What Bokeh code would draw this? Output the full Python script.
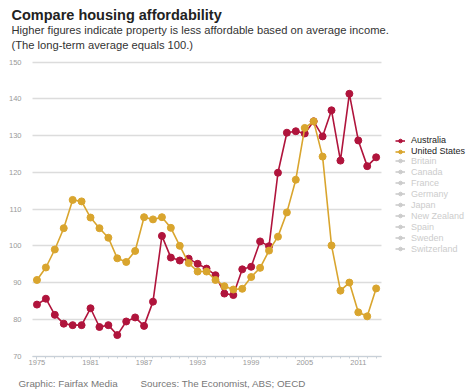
from bokeh.plotting import figure
from bokeh.models import ColumnDataSource, Label, Legend, LegendItem, FixedTicker, Range1d
from bokeh.embed import file_html
from bokeh.resources import INLINE

years = list(range(1975, 2014))
australia = [84.0, 85.6, 81.2, 78.8, 78.4, 78.4, 83.0, 77.9, 78.4, 75.7,
             79.4, 80.5, 78.2, 84.8, 102.7, 96.8, 96.0, 96.5, 95.1, 93.8,
             92.0, 87.0, 86.6, 93.6, 94.3, 101.2, 99.9, 119.9, 130.8, 131.2,
             130.6, 133.9, 129.8, 136.9, 123.2, 141.4, 128.7, 121.7, 124.1]
united_states = [90.7, 94.1, 99.0, 104.8, 112.5, 112.1, 107.7, 104.8, 102.2, 96.6,
                 95.6, 98.6, 107.8, 107.2, 107.8, 104.9, 100.0, 95.3, 93.0, 93.0,
                 90.7, 89.0, 88.1, 88.3, 91.5, 94.0, 98.7, 102.5, 109.1, 118.0,
                 132.1, 133.9, 124.3, 100.1, 87.8, 90.0, 81.9, 80.8, 88.4]
other_countries = ["Britain", "Canada", "France", "Germany", "Japan",
                   "New Zealand", "Spain", "Sweden", "Switzerland"]
x_tick_years = [1975, 1981, 1987, 1993, 1999, 2005, 2011]
y_ticks = [70, 80, 90, 100, 110, 120, 130, 140, 150]

title = "Compare housing affordability"
subtitle1 = "Higher figures indicate property is less affordable based on average income."
subtitle2 = "(The long-term average equals 100.)"
credit = "Graphic: Fairfax Media"
sources = "Sources: The Economist, ABS; OECD"

AUS = "#b0143c"
USC = "#d9a52e"
GREY = "#cccccc"
FONT = "Liberation Sans"

# layout (pixels)
W, H = 470, 391
PX_L, PX_R, PX_T, PX_B = 32, 381, 61.7, 355.5
X0, X1 = 1974.5, 2013.6       # data extent of the plotting area
Y0, Y1 = 70, 150
sx = (PX_R - PX_L) / (X1 - X0)
sy = (PX_B - PX_T) / (Y1 - Y0)

p = figure(width=W, height=H, output_backend="svg", toolbar_location=None,
           x_range=Range1d(X0 - PX_L / sx, X1 + (W - PX_R) / sx),
           y_range=Range1d(Y0 - (H - PX_B) / sy, Y1 + PX_T / sy),
           min_border_left=0, min_border_right=0, min_border_top=0,
           min_border_bottom=0, outline_line_color=None,
           background_fill_color="white", border_fill_color="white")

p.xgrid.visible = False
grid = p.ygrid[0]
grid.grid_line_color = "#dcdcdc"
grid.grid_line_width = 1.5
if "cross_bounds" in grid.properties():
    grid.cross_bounds = (X0, X1)
else:
    grid.visible = False
    p.segment(x0=[X0] * len(y_ticks), x1=[X1] * len(y_ticks), y0=y_ticks, y1=y_ticks,
              line_color="#dcdcdc", line_width=1.5, level="underlay")

yax = p.yaxis[0]
yax.fixed_location = X0
yax.bounds = (Y0, Y1)
yax.ticker = FixedTicker(ticks=y_ticks)
yax.axis_line_color = None
yax.major_tick_line_color = None
yax.minor_tick_line_color = None
yax.major_label_standoff = 5
yax.major_label_text_font_size = "7.5px"
yax.major_label_text_color = "#999999"
yax.major_label_text_font = FONT

xax = p.xaxis[0]
xax.fixed_location = Y0
xax.bounds = (X0, X1)
xax.ticker = FixedTicker(ticks=x_tick_years, minor_ticks=years)
xax.axis_line_color = "#c8d0d8"
xax.major_tick_line_color = "#c8d0d8"
xax.minor_tick_line_color = "#c8d0d8"
xax.major_tick_out = 3
xax.major_tick_in = 0
xax.minor_tick_out = 2
xax.minor_tick_in = 0
xax.major_label_standoff = 1
xax.major_label_text_font_size = "7.5px"
xax.major_label_text_color = "#999999"
xax.major_label_text_font = FONT

src = ColumnDataSource(dict(year=years, aus=australia, us=united_states))

la = p.line("year", "aus", source=src, line_color=AUS, line_width=1.6)
sa = p.scatter("year", "aus", source=src, size=7, fill_color=AUS, line_color=AUS)
lu = p.line("year", "us", source=src, line_color=USC, line_width=1.6)
su = p.scatter("year", "us", source=src, size=7, fill_color=USC, line_color=USC)

grey_items = []
nan = float("nan")
for name in other_countries:
    es = ColumnDataSource(dict(x=[nan], y=[nan]))
    gl = p.line("x", "y", source=es, line_color=GREY, line_width=1.6)
    gs = p.scatter("x", "y", source=es, size=5, fill_color=GREY, line_color=GREY)
    grey_items.append(LegendItem(label=name, renderers=[gl, gs]))

common = dict(border_line_color=None, background_fill_alpha=0, padding=0, margin=0,
              spacing=1, glyph_width=10, glyph_height=9, label_height=9,
              label_standoff=6, label_text_font=FONT, label_text_font_size="9px",
              label_text_baseline="middle")

# tuple location = bottom-left corner of legend, in frame pixels from bottom-left
leg1 = Legend(items=[LegendItem(label="Australia", renderers=[la, sa]),
                     LegendItem(label="United States", renderers=[lu, su])],
              location=(395, H - 156), label_text_color="#222222", **common)
leg2 = Legend(items=grey_items, location=(395, H - 253.5),
              label_text_color=GREY, **common)
p.add_layout(leg1, "center")
p.add_layout(leg2, "center")

def add_text(txt, x, y, size, color, bold=False):
    p.add_layout(Label(x=x, y=H - y, x_units="screen", y_units="screen", text=txt,
                       text_font=FONT, text_font_size=size, text_color=color,
                       text_font_style="bold" if bold else "normal",
                       text_baseline="middle", text_align="left"))

add_text(title, 11, 14, "14.5px", "#222222", bold=True)
add_text(subtitle1, 11, 29.5, "11.2px", "#333333")
add_text(subtitle2, 11, 44.5, "11.2px", "#333333")
add_text(credit, 18, 383, "9.8px", "#777777")
add_text(sources, 140, 383, "9.8px", "#777777")

open("out.html", "w").write(file_html(p, INLINE))
